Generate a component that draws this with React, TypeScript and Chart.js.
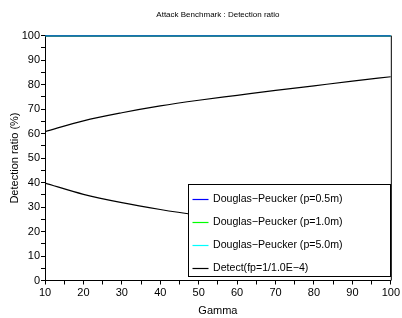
import React, { useEffect, useRef } from "react";
import { Chart, registerables } from "chart.js";

Chart.register(...registerables);

const gamma = [10, 20, 30, 40, 50, 60, 70, 80, 90, 100];
const dp05 = [100, 100, 100, 100, 100, 100, 100, 100, 100, 100];
const dp10 = [100, 100, 100, 100, 100, 100, 100, 100, 100, 100];
const dp50 = [100, 100, 100, 100, 100, 100, 100, 100, 100, 100];
const detectUpper = [60.8, 65.2, 68.5, 71.3, 73.6, 75.6, 77.6, 79.5, 81.4, 83.2];
const detectLower = [39.8, 35.2, 31.8, 29.0, 26.6, 24.5, 22.4, 20.5, 18.7, 17.1];

const seriesLabels = [
  "Douglas\u2212Peucker (p=0.5m)",
  "Douglas\u2212Peucker (p=1.0m)",
  "Douglas\u2212Peucker (p=5.0m)",
  "Detect(fp=1/1.0E\u22124)",
];
const seriesColors = ["#0000ff", "#00ff00", "#00ffff", "#000000"];

const FONT = "'Liberation Sans', Arial, sans-serif";

const pts = (ys: number[]) => gamma.map((g, i) => ({ x: g, y: ys[i] }));

const frame = {
  id: "frame",
  beforeDatasetsDraw(chart: any) {
    const { ctx, chartArea } = chart;
    ctx.save();
    ctx.strokeStyle = "#000";
    ctx.lineWidth = 1;
    ctx.beginPath();
    ctx.moveTo(chartArea.right + 0.5, chartArea.top);
    ctx.lineTo(chartArea.right + 0.5, chartArea.bottom);
    ctx.moveTo(chartArea.left, chartArea.top + 0.5);
    ctx.lineTo(chartArea.right, chartArea.top + 0.5);
    ctx.stroke();
    ctx.restore();
  },
  afterDatasetsDraw(chart: any) {
    const { ctx } = chart;
    const xs = chart.scales.x;
    const ys = chart.scales.y;
    // legend box anchored in data space
    const left = Math.round(xs.getPixelForValue(47.1)) + 0.5;
    const right = Math.round(xs.getPixelForValue(99.7)) + 0.5;
    const top = Math.round(ys.getPixelForValue(39.5)) + 0.5;
    const bottom = Math.round(ys.getPixelForValue(2.0)) + 0.5;
    ctx.save();
    ctx.fillStyle = "#fff";
    ctx.fillRect(left, top, right - left, bottom - top);
    ctx.strokeStyle = "#000";
    ctx.lineWidth = 1;
    ctx.strokeRect(left, top, right - left, bottom - top);
    ctx.font = `10.6px ${FONT}`;
    ctx.textBaseline = "middle";
    ctx.textAlign = "left";
    const rowH = 22.9;
    for (let i = 0; i < seriesLabels.length; i++) {
      const cy = Math.round(top + 14.5 + i * rowH) + 0.5;
      ctx.strokeStyle = seriesColors[i];
      ctx.lineWidth = 1.2;
      ctx.beginPath();
      ctx.moveTo(left + 4, cy);
      ctx.lineTo(left + 20, cy);
      ctx.stroke();
      ctx.fillStyle = "#000";
      ctx.fillText(seriesLabels[i], left + 24.5, cy);
    }
    ctx.restore();
  },
};

export default function App() {
  const ref = useRef<HTMLCanvasElement>(null);
  useEffect(() => {
    document.body.style.margin = "0";
    const mk = (label: string, data: number[], color: string) => ({
      label,
      data: pts(data),
      borderColor: color,
      backgroundColor: color,
      borderWidth: 1.2,
      pointRadius: 0,
      tension: 0.4,
      cubicInterpolationMode: "monotone" as const,
      fill: false,
    });
    const chart = new Chart(ref.current!, {
      type: "line",
      data: {
        datasets: [
          mk(seriesLabels[0], dp05, seriesColors[0]),
          mk(seriesLabels[1], dp10, seriesColors[1]),
          mk(seriesLabels[2], dp50, seriesColors[2]),
          mk(seriesLabels[3], detectUpper, seriesColors[3]),
          mk("", detectLower, seriesColors[3]),
        ],
      },
      plugins: [frame],
      options: {
        responsive: false,
        animation: false,
        layout: { padding: { left: 8, right: 10, top: 0, bottom: 0 } },
        plugins: {
          legend: { display: false },
          tooltip: { enabled: false },
          title: {
            display: true,
            fullSize: false,
            text: "Attack Benchmark : Detection ratio",
            color: "#000",
            font: { family: FONT, size: 8, weight: "normal" },
            padding: { top: 10, bottom: 16 },
          },
        },
        scales: {
          x: {
            type: "linear",
            min: 10,
            max: 100,
            afterFit: (s: any) => {
              s.height = 37.5;
            },
            border: { display: true, color: "#000", width: 1 },
            grid: { drawOnChartArea: false, drawTicks: true, tickLength: 4, color: "#000" },
            ticks: {
              stepSize: 5,
              autoSkip: false,
              maxRotation: 0,
              color: "#000",
              padding: 2,
              font: { family: FONT, size: 11 },
              callback: (v: any) => (Number(v) % 10 === 0 ? String(v) : ""),
            },
            title: {
              display: true,
              text: "Gamma",
              color: "#000",
              font: { family: FONT, size: 11 },
              padding: { top: 3, bottom: 0 },
            },
          },
          y: {
            min: 0,
            max: 100,
            afterFit: (s: any) => {
              s.width = 37;
            },
            border: { display: true, color: "#000", width: 1 },
            grid: { drawOnChartArea: false, drawTicks: true, tickLength: 4, color: "#000" },
            ticks: {
              stepSize: 5,
              autoSkip: false,
              color: "#000",
              padding: 1,
              font: { family: FONT, size: 11 },
              callback: (v: any) => (Number(v) % 10 === 0 ? String(v) : ""),
            },
            title: {
              display: true,
              text: "Detection ratio (%)",
              color: "#000",
              font: { family: FONT, size: 11 },
              padding: { top: 0, bottom: 2 },
            },
          },
        },
      },
    });
    return () => chart.destroy();
  }, []);
  return (
    <div style={{ width: 402, height: 318, background: "#fff" }}>
      <canvas ref={ref} width={402} height={318} style={{ display: "block" }} />
    </div>
  );
}
